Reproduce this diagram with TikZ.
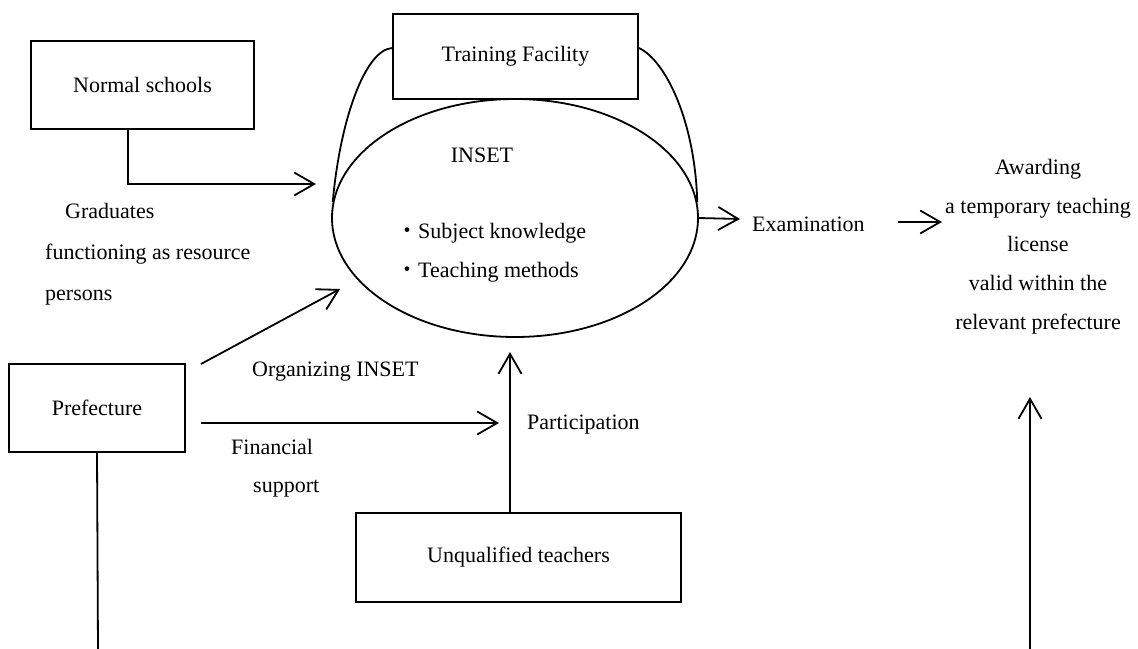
\documentclass[tikz,border=0pt]{standalone}
\usepackage{fontspec}
\setmainfont{Liberation Serif}
\newfontfamily\cjk{Noto Sans CJK JP}
\usetikzlibrary{arrows.meta,shapes.geometric}
\begin{document}
\begin{tikzpicture}[x=1pt,y=-1pt,
  every node/.style={font=\fontsize{22}{26}\selectfont, inner sep=0pt},
  box/.style={draw, line width=1.8pt, rectangle},
  lbl/.style={align=left, anchor=west},
  arr/.style={line width=1.8pt, -{Straight Barb[length=20pt,width=23pt,line width=1.8pt]}},
  ln/.style={line width=1.8pt}]
\path[use as bounding box, fill=white] (0,0) rectangle (1138,648);

% boxes
\node[box, minimum width=223pt, minimum height=88pt] (normal) at (142.5,85) {Normal schools};
\node[box, minimum width=245pt, minimum height=85pt] (train) at (515.5,56.5) {Training Facility};
\node[box, minimum width=176pt, minimum height=88pt] (pref) at (97,408) {Prefecture};
\node[box, minimum width=325pt, minimum height=89pt] (unq) at (518.5,557.5) {Unqualified teachers};
\node[draw, ellipse, line width=1.8pt, minimum width=366pt, minimum height=238pt] (ins) at (515,218) {};

% texts
\node (inset) at (482,155) {INSET};
\node[lbl, align=left, font=\fontsize{22}{39}\selectfont] (topics) at (396,252.5) {{\cjk ・}Subject knowledge\\{\cjk ・}Teaching methods};
\node[lbl, anchor=north west, font=\fontsize{22}{41}\selectfont] (grad) at (45,203) {\hspace*{20pt}Graduates\\functioning as resource\\persons};
\node[lbl] (exam) at (752,224) {Examination};
\node[align=center, font=\fontsize{22}{38.75}\selectfont] (award) at (1038,246.5) {Awarding\\a temporary teaching\\license\\valid within the\\relevant prefecture};
\node[lbl] (org) at (252,372) {Organizing INSET};
\node[lbl, anchor=north west, font=\fontsize{22}{38}\selectfont] (fin) at (231,439) {Financial\\\hspace*{22pt}support};
\node[lbl] (part) at (527,425) {Participation};

% coordinates
\coordinate (nsTip) at (316,184);
\coordinate (orgS) at (201,364);
\coordinate (orgT) at (340,289);
\coordinate (finS) at (201,423);
\coordinate (finT) at (499,423);
\coordinate (partT) at (510,352);
\coordinate (examT) at (740,219);
\coordinate (awS) at (898,222);
\coordinate (awT) at (942,222);
\coordinate (upS) at (1030,650);
\coordinate (upT) at (1030,397);
\coordinate (prefE) at (98,650);

% connectors
\draw[arr] ([xshift=-14.5pt]normal.south) |- (nsTip);
\draw[arr] (orgS) -- (orgT);
\draw[arr] (finS) -- (finT);
\draw[arr] ([xshift=-8.5pt]unq.north) -- (partT);
\draw[arr] (ins.east) -- (examT);
\draw[arr] (awS) -- (awT);
\draw[arr] (upS) -- (upT);
\draw[ln] (pref.south) -- (prefE);

% side curves of the training facility
\draw[ln] ([yshift=8.5pt]train.west) .. controls (365,50) and (340,120) .. (ins.175);
\draw[ln] ([yshift=8.5pt]train.east) .. controls (665,60) and (695,120) .. (ins.5);
\end{tikzpicture}
\end{document}
